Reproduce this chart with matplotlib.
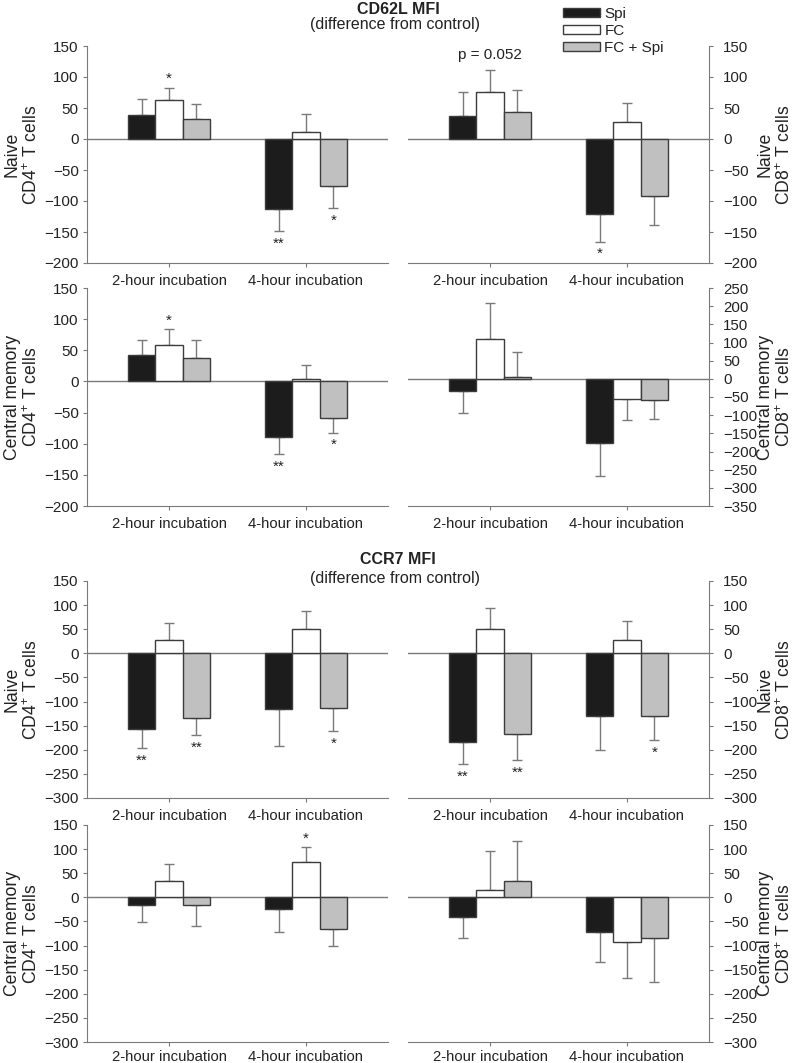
import matplotlib
matplotlib.use("Agg")
import matplotlib.pyplot as plt
import numpy as np
from matplotlib.patches import Patch

plt.rcParams['font.family'] = ['Liberation Sans', 'DejaVu Sans']
plt.rcParams['mathtext.fontset'] = 'custom'
plt.rcParams['mathtext.rm'] = 'Liberation Sans'
plt.rcParams['mathtext.it'] = 'Liberation Sans'

groups = ["2-hour incubation", "4-hour incubation"]
series = ["Spi", "FC", "FC + Spi"]

# means [series][group] and one-sided errors
cd62l_naive_cd4_mean = [[38, -112.5], [62.7, 11.8], [32.7, -76.6]]
cd62l_naive_cd4_err = [[26, 35.5], [20.3, 28], [23, 34.5]]
cd62l_naive_cd4_sig = [["", "**"], ["*", ""], ["", "*"]]

cd62l_naive_cd8_mean = [[37.5, -120.6], [75.6, 27.3], [44, -92]]
cd62l_naive_cd8_err = [[38, 45], [35.5, 30.7], [35, 46]]
cd62l_naive_cd8_sig = [["", "*"], ["p = 0.052", ""], ["", ""]]

cd62l_cm_cd4_mean = [[43, -89], [58, 4.3], [38, -58]]
cd62l_cm_cd4_err = [[23, 28], [26, 22.7], [28, 24]]
cd62l_cm_cd4_sig = [["", "**"], ["*", ""], ["", "*"]]

cd62l_cm_cd8_mean = [[-33, -177], [110, -55], [5.5, -57]]
cd62l_cm_cd8_err = [[61, 90], [99, 58], [68.5, 54]]
cd62l_cm_cd8_sig = [["", ""], ["", ""], ["", ""]]

ccr7_naive_cd4_mean = [[-156.5, -116], [27, 51], [-134, -113]]
ccr7_naive_cd4_err = [[39.5, 76], [36, 37], [35, 49]]
ccr7_naive_cd4_sig = [["**", ""], ["", ""], ["**", "*"]]

ccr7_naive_cd8_mean = [[-184, -130], [50.5, 27], [-167, -130]]
ccr7_naive_cd8_err = [[46, 71], [42.5, 40], [55, 50]]
ccr7_naive_cd8_sig = [["**", ""], ["", ""], ["**", "*"]]

ccr7_cm_cd4_mean = [[-16.6, -24], [33, 73], [-16.6, -66.5]]
ccr7_cm_cd4_err = [[35.4, 47], [36, 31], [42.4, 33.5]]
ccr7_cm_cd4_sig = [["", ""], ["", "*"], ["", ""]]

ccr7_cm_cd8_mean = [[-41, -72], [16, -93.5], [34, -85]]
ccr7_cm_cd8_err = [[43, 62], [81, 74.5], [82, 90]]
ccr7_cm_cd8_sig = [["", ""], ["", ""], ["", ""]]

ylabels = {
    "n4": "Naive\nCD4$^{+}$ T cells",
    "n8": "Naive\nCD8$^{+}$ T cells",
    "c4": "Central memory\nCD4$^{+}$ T cells",
    "c8": "Central memory\nCD8$^{+}$ T cells",
}

colors = ["#1c1c1c", "#ffffff", "#c0c0c0"]
edge = "#3c3c3c"
gray = "#7a7a7a"
txt = "#222222"

W, H = 796, 1063
fig = plt.figure(figsize=(W / 100, H / 100), dpi=100)


def axrect(x0, x1, y0, y1):
    return [x0 / W, 1 - y1 / H, (x1 - x0) / W, (y1 - y0) / H]


panels = [
    (axrect(87, 388, 46, 263), cd62l_naive_cd4_mean, cd62l_naive_cd4_err, cd62l_naive_cd4_sig, (-200, 150), "left", ylabels["n4"], 5),
    (axrect(408, 709, 46, 263), cd62l_naive_cd8_mean, cd62l_naive_cd8_err, cd62l_naive_cd8_sig, (-200, 150), "right", ylabels["n8"], 5),
    (axrect(87, 388, 288, 506), cd62l_cm_cd4_mean, cd62l_cm_cd4_err, cd62l_cm_cd4_sig, (-200, 150), "left", ylabels["c4"], 5),
    (axrect(408, 709, 288, 506), cd62l_cm_cd8_mean, cd62l_cm_cd8_err, cd62l_cm_cd8_sig, (-350, 250), "right", ylabels["c8"], 5),
    (axrect(87, 388, 581, 798), ccr7_naive_cd4_mean, ccr7_naive_cd4_err, ccr7_naive_cd4_sig, (-300, 150), "left", ylabels["n4"], 5),
    (axrect(408, 709, 581, 798), ccr7_naive_cd8_mean, ccr7_naive_cd8_err, ccr7_naive_cd8_sig, (-300, 150), "right", ylabels["n8"], 5),
    (axrect(87, 388, 825, 1042), ccr7_cm_cd4_mean, ccr7_cm_cd4_err, ccr7_cm_cd4_sig, (-300, 150), "left", ylabels["c4"], 3),
    (axrect(408, 709, 825, 1042), ccr7_cm_cd8_mean, ccr7_cm_cd8_err, ccr7_cm_cd8_sig, (-300, 150), "right", ylabels["c8"], 3),
]

bw = 0.2
xg = np.arange(len(groups))
for rect, means, errs, sigs, (ymin, ymax), side, ylab, xpad in panels:
    ax = fig.add_axes(rect)
    ax.set_xlim(-0.6, 1.6)
    ax.set_ylim(ymin, ymax)
    ax.axhline(0, color=gray, lw=1, zorder=1)
    for s in range(len(series)):
        x = xg + (s - 1) * bw
        m = np.array(means[s], dtype=float)
        e = np.array(errs[s], dtype=float)
        ax.bar(x, m, width=bw, color=colors[s], edgecolor=edge, linewidth=1, zorder=3, label=series[s])
        lo = np.where(m < 0, e, 0)
        up = np.where(m >= 0, e, 0)
        ax.errorbar(x, m, yerr=[lo, up], fmt='none', ecolor=gray, elinewidth=1, capsize=3.5, capthick=1, zorder=2)
        for g in range(len(groups)):
            lab = sigs[s][g]
            if not lab:
                continue
            end = m[g] + (e[g] if m[g] >= 0 else -e[g])
            if lab.startswith("p"):
                ax.annotate(lab, (x[g], end), xytext=(0, 6), textcoords='offset points',
                            ha='center', va='bottom', fontsize=11, color=txt)
            elif m[g] >= 0:
                ax.annotate(lab, (x[g], end), xytext=(0, 1), textcoords='offset points',
                            ha='center', va='bottom', fontsize=11, color=txt)
            else:
                ax.annotate(lab, (x[g], end), xytext=(0, -4), textcoords='offset points',
                            ha='center', va='top', fontsize=11, color=txt)
    ax.set_yticks(np.arange(ymin, ymax + 1, 50))
    ax.set_xticks(xg)
    ax.set_xticklabels(groups)
    for sp in ax.spines.values():
        sp.set_color(gray)
    ax.spines['top'].set_visible(False)
    if side == "left":
        ax.spines['right'].set_visible(False)
        ax.tick_params(axis='y', direction='out', length=3, pad=3, labelsize=11, colors=gray, labelcolor=txt)
        ax.yaxis.set_label_coords(-0.215, 0.5)
    else:
        ax.spines['left'].set_visible(False)
        ax.yaxis.tick_right()
        ax.yaxis.set_label_position('right')
        ax.tick_params(axis='y', direction='out', length=3, pad=7, labelsize=10.8, colors=gray, labelcolor=txt)
        ax.yaxis.set_label_coords(1.22, 0.5)
    ax.tick_params(axis='x', direction='out', length=3, pad=xpad, labelsize=10.7, colors=gray, labelcolor=txt)
    ax.set_ylabel(ylab, fontsize=12.7, color=txt, multialignment='center', rotation=90,
                  va='center', ha='center', linespacing=1.1)

fig.text(398 / W, 1 - 9 / H, "CD62L MFI", ha='center', va='center', fontsize=11.5, fontweight='bold', color=txt)
fig.text(395 / W, 1 - 24 / H, "(difference from control)", ha='center', va='center', fontsize=11.5, color=txt)
fig.text(398 / W, 1 - 559 / H, "CCR7 MFI", ha='center', va='center', fontsize=11.5, fontweight='bold', color=txt)
fig.text(395 / W, 1 - 578 / H, "(difference from control)", ha='center', va='center', fontsize=11.5, color=txt)

leg_handles = [Patch(facecolor=colors[i], edgecolor=edge, linewidth=1) for i in range(3)]
fig.legend(leg_handles, series, loc='upper left', bbox_to_anchor=(563 / W, 1 - 7 / H),
           frameon=False, fontsize=11, handlelength=2.4, handleheight=0.5,
           handletextpad=0.3, labelspacing=0.2, borderpad=0, borderaxespad=0, labelcolor=txt)

fig.savefig("out.png", dpi=100)
